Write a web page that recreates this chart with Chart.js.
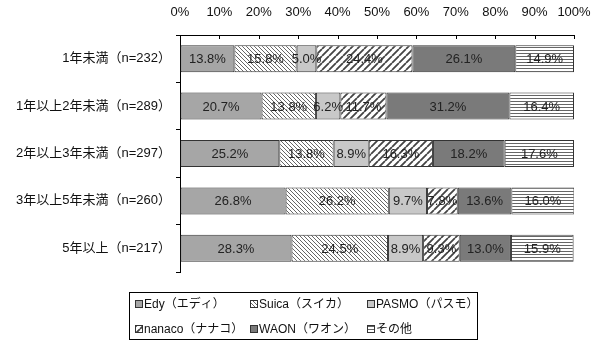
<!DOCTYPE html>
<html>
<head>
<meta charset="utf-8">
<script src="https://cdn.jsdelivr.net/npm/chart.js@4/dist/chart.umd.min.js"></script>
<style>
  html, body { margin: 0; padding: 0; background: #fff; }
  #wrap { width: 600px; height: 348px; }
</style>
</head>
<body>
<div id="wrap"><canvas id="chart"></canvas></div>
<script>
/* data */
let categories = ['1年未満（n=232）', '1年以上2年未満（n=289）', '2年以上3年未満（n=297）', '3年以上5年未満（n=260）', '5年以上（n=217）']
let seriesNames = ['Edy（エディ）', 'Suica（スイカ）', 'PASMO（パスモ）', 'nanaco（ナナコ）', 'WAON（ワオン）', 'その他']
let edy    = [13.8, 20.7, 25.2, 26.8, 28.3]
let suica  = [15.8, 13.8, 13.8, 26.2, 24.5]
let pasmo  = [5.0, 6.2, 8.9, 9.7, 8.9]
let nanaco = [24.4, 11.7, 16.3, 7.8, 9.3]
let waon   = [26.1, 31.2, 18.2, 13.6, 13.0]
let other  = [14.9, 16.4, 17.6, 16.0, 15.9]
let xTicks = [0, 10, 20, 30, 40, 50, 60, 70, 80, 90, 100]

let latin = '"Liberation Sans", "Noto Sans CJK JP", sans-serif'

// small canvas patterns for the hatched series
function makePattern(kind) {
    let c = document.createElement('canvas')
    let p = c.getContext('2d')
    if (kind == 'back') {          // thin "\" lines
        c.width = 4; c.height = 4
        p.fillStyle = '#fff'; p.fillRect(0, 0, 4, 4)
        p.fillStyle = '#666'
        for (let i = 0; i < 4; i++) p.fillRect(i, i, 1, 1)
    } else if (kind == 'fwd') {    // bold "/" lines
        c.width = 7; c.height = 7
        p.fillStyle = '#fff'; p.fillRect(0, 0, 7, 7)
        p.strokeStyle = '#444'; p.lineWidth = 1.8
        p.beginPath()
        for (let o = -7; o <= 14; o += 7) { p.moveTo(o, 7); p.lineTo(o + 7, 0) }
        p.stroke()
    } else {                       // horizontal lines
        c.width = 4; c.height = 3
        p.fillStyle = '#fff'; p.fillRect(0, 0, 4, 3)
        p.fillStyle = '#666'; p.fillRect(0, 2, 4, 1)
    }
    return p.createPattern(c, 'repeat')
}

let fills = ['#a6a6a6', makePattern('back'), '#c8c8c8', makePattern('fwd'), '#7a7a7a', makePattern('horiz')]
let seriesData = [edy, suica, pasmo, nanaco, waon, other]

let datasets = seriesData.map(function(d, i) {
    return {
        label: seriesNames[i],
        data: d,
        backgroundColor: fills[i],
        borderColor: '#333',
        borderWidth: 1,
        borderSkipped: false,
        barPercentage: 0.57,
        categoryPercentage: 1
    }
})

// value labels in the middle of each segment
let valueLabels = {
    id: 'valueLabels',
    afterDatasetsDraw(chart) {
        let ctx = chart.ctx
        ctx.save()
        ctx.font = '13px ' + latin
        ctx.fillStyle = '#222'
        ctx.textAlign = 'center'
        ctx.textBaseline = 'middle'
        chart.data.datasets.forEach(function(ds, i) {
            chart.getDatasetMeta(i).data.forEach(function(bar, j) {
                let x = (bar.x + bar.base) / 2
                ctx.fillText(ds.data[j].toFixed(1) + '%', x, bar.y + 1)
            })
        })
        ctx.restore()
    }
}

// inward tick marks on the top axis + boxed legend grid
let extras = {
    id: 'extras',
    afterDraw(chart) {
        let ctx = chart.ctx
        let xs = chart.scales.x
        let area = chart.chartArea
        ctx.save()
        ctx.strokeStyle = '#000'
        ctx.lineWidth = 1
        ctx.beginPath()
        xTicks.forEach(function(t) {
            let px = Math.round(xs.getPixelForValue(t)) + 0.5
            ctx.moveTo(px, area.top)
            ctx.lineTo(px, area.top + 4)
        })
        ctx.stroke()

        // legend
        let boxL = 129, boxT = 292, boxW = 348, boxH = 47
        ctx.strokeStyle = '#000'
        ctx.strokeRect(boxL + 0.5, boxT + 0.5, boxW, boxH)
        let colX = [135, 250, 367]
        let rowY = [304, 329]
        ctx.font = '12px ' + latin
        ctx.textBaseline = 'middle'
        ctx.textAlign = 'left'
        seriesNames.forEach(function(name, i) {
            let x = colX[i % 3], y = rowY[Math.floor(i / 3)]
            ctx.fillStyle = fills[i]
            ctx.fillRect(x, y - 4, 8, 8)
            ctx.strokeStyle = '#333'
            ctx.strokeRect(x + 0.5, y - 3.5, 7, 7)
            ctx.fillStyle = '#111'
            ctx.fillText(name, x + 9, y + 1)
        })
        ctx.restore()
    }
}

let chart = new Chart(document.getElementById('chart'), {
    type: 'bar',
    data: { labels: categories, datasets: datasets },
    options: {
        indexAxis: 'y',
        responsive: true,
        maintainAspectRatio: false,
        animation: false,
        layout: { padding: { left: 0, right: 26, top: 0, bottom: 76 } },
        plugins: {
            legend: { display: false },
            tooltip: { enabled: false }
        },
        scales: {
            x: {
                position: 'top',
                stacked: true,
                min: 0,
                max: 100,
                afterBuildTicks(scale) { scale.ticks = xTicks.map(v => ({ value: v })) },
                afterFit(scale) {
                    scale.height = 35
                    scale.paddingLeft = 0
                    scale.paddingRight = 0
                },
                border: { display: true, color: '#000', width: 1 },
                grid: { display: true, drawOnChartArea: false, drawTicks: false },
                ticks: {
                    padding: 15,
                    color: '#111',
                    font: { family: latin, size: 13 },
                    callback: v => v + '%'
                }
            },
            y: {
                stacked: true,
                afterFit(scale) { scale.width = 180 },
                border: { display: true, color: '#000', width: 1 },
                grid: { display: true, drawOnChartArea: false, tickLength: 4, color: '#000', offset: true },
                ticks: {
                    padding: 5,
                    color: '#111',
                    font: { family: latin, size: 13 }
                }
            }
        }
    },
    plugins: [valueLabels, extras]
})
</script>
</body>
</html>
